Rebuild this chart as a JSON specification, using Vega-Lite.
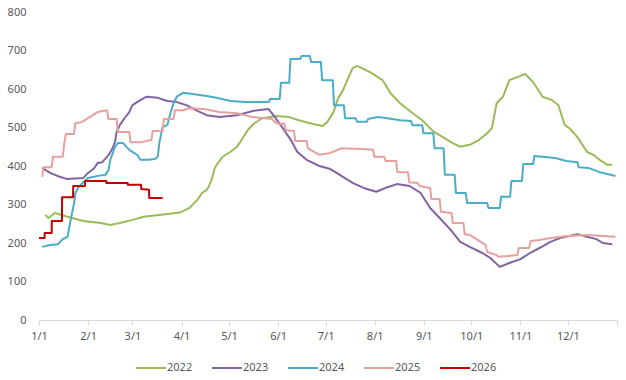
{
  "$schema": "https://vega.github.io/schema/vega-lite/v6.json",
  "width": 578,
  "height": 308,
  "autosize": {"type": "none"},
  "padding": {"left": 39, "top": 12, "right": 9, "bottom": 60},
  "background": "white",
  "config": {
    "view": {"stroke": null},
    "font": "Noto Sans",
    "axis": {"labelFont": "Noto Sans", "labelFontSize": 11, "labelColor": "#595959", "grid": false},
    "legend": {"labelFont": "Noto Sans", "labelFontSize": 11, "labelColor": "#595959"}
  },
  "datasets": {
    "series": [
      {"year": "2022", "day": 4, "value": 273}, {"year": "2022", "day": 6, "value": 265}, {"year": "2022", "day": 10, "value": 278},
      {"year": "2022", "day": 18, "value": 268}, {"year": "2022", "day": 28, "value": 257}, {"year": "2022", "day": 39, "value": 252},
      {"year": "2022", "day": 45, "value": 247}, {"year": "2022", "day": 51, "value": 252}, {"year": "2022", "day": 59, "value": 260},
      {"year": "2022", "day": 66, "value": 268}, {"year": "2022", "day": 76, "value": 273}, {"year": "2022", "day": 89, "value": 279},
      {"year": "2022", "day": 95, "value": 291}, {"year": "2022", "day": 100, "value": 312}, {"year": "2022", "day": 103, "value": 330},
      {"year": "2022", "day": 106, "value": 338}, {"year": "2022", "day": 107, "value": 345}, {"year": "2022", "day": 109, "value": 364},
      {"year": "2022", "day": 111, "value": 395}, {"year": "2022", "day": 113, "value": 408}, {"year": "2022", "day": 116, "value": 424},
      {"year": "2022", "day": 121, "value": 437}, {"year": "2022", "day": 125, "value": 450}, {"year": "2022", "day": 128, "value": 468},
      {"year": "2022", "day": 132, "value": 494}, {"year": "2022", "day": 136, "value": 511}, {"year": "2022", "day": 141, "value": 524},
      {"year": "2022", "day": 150, "value": 530}, {"year": "2022", "day": 158, "value": 527}, {"year": "2022", "day": 164, "value": 519},
      {"year": "2022", "day": 173, "value": 509}, {"year": "2022", "day": 179, "value": 504}, {"year": "2022", "day": 182, "value": 514},
      {"year": "2022", "day": 186, "value": 540}, {"year": "2022", "day": 189, "value": 577}, {"year": "2022", "day": 192, "value": 597},
      {"year": "2022", "day": 198, "value": 654}, {"year": "2022", "day": 201, "value": 660}, {"year": "2022", "day": 209, "value": 644},
      {"year": "2022", "day": 217, "value": 623}, {"year": "2022", "day": 222, "value": 589}, {"year": "2022", "day": 228, "value": 563},
      {"year": "2022", "day": 236, "value": 537}, {"year": "2022", "day": 242, "value": 519}, {"year": "2022", "day": 249, "value": 490},
      {"year": "2022", "day": 255, "value": 475}, {"year": "2022", "day": 261, "value": 460}, {"year": "2022", "day": 266, "value": 450},
      {"year": "2022", "day": 272, "value": 455}, {"year": "2022", "day": 278, "value": 468}, {"year": "2022", "day": 283, "value": 485},
      {"year": "2022", "day": 286, "value": 498}, {"year": "2022", "day": 289, "value": 563}, {"year": "2022", "day": 293, "value": 580},
      {"year": "2022", "day": 297, "value": 623}, {"year": "2022", "day": 302, "value": 631}, {"year": "2022", "day": 307, "value": 639},
      {"year": "2022", "day": 312, "value": 618}, {"year": "2022", "day": 318, "value": 580}, {"year": "2022", "day": 324, "value": 571},
      {"year": "2022", "day": 328, "value": 558}, {"year": "2022", "day": 332, "value": 506}, {"year": "2022", "day": 335, "value": 498},
      {"year": "2022", "day": 340, "value": 475}, {"year": "2022", "day": 346, "value": 437}, {"year": "2022", "day": 350, "value": 429},
      {"year": "2022", "day": 354, "value": 416}, {"year": "2022", "day": 359, "value": 403}, {"year": "2022", "day": 362, "value": 403},

      {"year": "2023", "day": 2, "value": 395}, {"year": "2023", "day": 7, "value": 382}, {"year": "2023", "day": 13, "value": 372},
      {"year": "2023", "day": 18, "value": 366}, {"year": "2023", "day": 28, "value": 369}, {"year": "2023", "day": 31, "value": 382},
      {"year": "2023", "day": 35, "value": 395}, {"year": "2023", "day": 37, "value": 408}, {"year": "2023", "day": 40, "value": 410},
      {"year": "2023", "day": 44, "value": 429}, {"year": "2023", "day": 46, "value": 442}, {"year": "2023", "day": 48, "value": 462},
      {"year": "2023", "day": 49, "value": 488}, {"year": "2023", "day": 51, "value": 506}, {"year": "2023", "day": 54, "value": 524},
      {"year": "2023", "day": 57, "value": 540}, {"year": "2023", "day": 59, "value": 558}, {"year": "2023", "day": 64, "value": 571},
      {"year": "2023", "day": 68, "value": 580}, {"year": "2023", "day": 75, "value": 577}, {"year": "2023", "day": 81, "value": 569},
      {"year": "2023", "day": 87, "value": 566}, {"year": "2023", "day": 93, "value": 558}, {"year": "2023", "day": 99, "value": 545},
      {"year": "2023", "day": 106, "value": 532}, {"year": "2023", "day": 114, "value": 527}, {"year": "2023", "day": 125, "value": 532},
      {"year": "2023", "day": 135, "value": 543}, {"year": "2023", "day": 145, "value": 548}, {"year": "2023", "day": 149, "value": 527},
      {"year": "2023", "day": 154, "value": 498}, {"year": "2023", "day": 159, "value": 468}, {"year": "2023", "day": 163, "value": 437},
      {"year": "2023", "day": 169, "value": 416}, {"year": "2023", "day": 177, "value": 400}, {"year": "2023", "day": 184, "value": 392},
      {"year": "2023", "day": 190, "value": 377}, {"year": "2023", "day": 198, "value": 356}, {"year": "2023", "day": 205, "value": 343},
      {"year": "2023", "day": 213, "value": 333}, {"year": "2023", "day": 220, "value": 345}, {"year": "2023", "day": 226, "value": 353},
      {"year": "2023", "day": 234, "value": 348}, {"year": "2023", "day": 241, "value": 330}, {"year": "2023", "day": 247, "value": 291},
      {"year": "2023", "day": 253, "value": 265}, {"year": "2023", "day": 260, "value": 234}, {"year": "2023", "day": 266, "value": 203},
      {"year": "2023", "day": 272, "value": 190}, {"year": "2023", "day": 280, "value": 174}, {"year": "2023", "day": 285, "value": 161},
      {"year": "2023", "day": 291, "value": 138}, {"year": "2023", "day": 297, "value": 148}, {"year": "2023", "day": 304, "value": 158},
      {"year": "2023", "day": 310, "value": 174}, {"year": "2023", "day": 316, "value": 187}, {"year": "2023", "day": 323, "value": 203},
      {"year": "2023", "day": 329, "value": 213}, {"year": "2023", "day": 335, "value": 218}, {"year": "2023", "day": 340, "value": 223},
      {"year": "2023", "day": 346, "value": 216}, {"year": "2023", "day": 352, "value": 210}, {"year": "2023", "day": 356, "value": 200},
      {"year": "2023", "day": 362, "value": 197},

      {"year": "2024", "day": 2, "value": 190}, {"year": "2024", "day": 7, "value": 195}, {"year": "2024", "day": 12, "value": 197},
      {"year": "2024", "day": 15, "value": 210}, {"year": "2024", "day": 18, "value": 216}, {"year": "2024", "day": 20, "value": 260},
      {"year": "2024", "day": 22, "value": 300}, {"year": "2024", "day": 23, "value": 330}, {"year": "2024", "day": 25, "value": 345},
      {"year": "2024", "day": 28, "value": 358}, {"year": "2024", "day": 31, "value": 369}, {"year": "2024", "day": 38, "value": 375},
      {"year": "2024", "day": 42, "value": 377}, {"year": "2024", "day": 44, "value": 390}, {"year": "2024", "day": 45, "value": 416},
      {"year": "2024", "day": 48, "value": 450}, {"year": "2024", "day": 50, "value": 460}, {"year": "2024", "day": 53, "value": 460},
      {"year": "2024", "day": 57, "value": 442}, {"year": "2024", "day": 62, "value": 429}, {"year": "2024", "day": 64, "value": 416},
      {"year": "2024", "day": 69, "value": 416}, {"year": "2024", "day": 73, "value": 418}, {"year": "2024", "day": 75, "value": 424},
      {"year": "2024", "day": 76, "value": 460}, {"year": "2024", "day": 78, "value": 501}, {"year": "2024", "day": 81, "value": 506},
      {"year": "2024", "day": 83, "value": 537}, {"year": "2024", "day": 85, "value": 563}, {"year": "2024", "day": 87, "value": 580},
      {"year": "2024", "day": 91, "value": 590}, {"year": "2024", "day": 97, "value": 587}, {"year": "2024", "day": 106, "value": 582},
      {"year": "2024", "day": 112, "value": 577}, {"year": "2024", "day": 121, "value": 569}, {"year": "2024", "day": 130, "value": 566},
      {"year": "2024", "day": 145, "value": 566}, {"year": "2024", "day": 145.8, "value": 574}, {"year": "2024", "day": 152, "value": 574},
      {"year": "2024", "day": 152.8, "value": 616}, {"year": "2024", "day": 158, "value": 616}, {"year": "2024", "day": 158.8, "value": 678},
      {"year": "2024", "day": 165, "value": 678}, {"year": "2024", "day": 165.8, "value": 686}, {"year": "2024", "day": 171, "value": 686},
      {"year": "2024", "day": 171.8, "value": 670}, {"year": "2024", "day": 178, "value": 670}, {"year": "2024", "day": 178.8, "value": 623},
      {"year": "2024", "day": 185.5, "value": 623}, {"year": "2024", "day": 186.3, "value": 558}, {"year": "2024", "day": 192.5, "value": 558},
      {"year": "2024", "day": 193.3, "value": 524}, {"year": "2024", "day": 200, "value": 524}, {"year": "2024", "day": 200.8, "value": 515},
      {"year": "2024", "day": 207, "value": 515}, {"year": "2024", "day": 207.8, "value": 522}, {"year": "2024", "day": 214, "value": 527},
      {"year": "2024", "day": 220, "value": 524}, {"year": "2024", "day": 228, "value": 519}, {"year": "2024", "day": 235, "value": 517},
      {"year": "2024", "day": 235.8, "value": 506}, {"year": "2024", "day": 242, "value": 506}, {"year": "2024", "day": 242.8, "value": 485},
      {"year": "2024", "day": 249, "value": 485}, {"year": "2024", "day": 249.8, "value": 446}, {"year": "2024", "day": 255.5, "value": 446},
      {"year": "2024", "day": 256.3, "value": 377}, {"year": "2024", "day": 262.5, "value": 377}, {"year": "2024", "day": 263.3, "value": 330},
      {"year": "2024", "day": 269.5, "value": 330}, {"year": "2024", "day": 270.3, "value": 304}, {"year": "2024", "day": 283, "value": 304},
      {"year": "2024", "day": 283.8, "value": 291}, {"year": "2024", "day": 291, "value": 291}, {"year": "2024", "day": 291.8, "value": 320},
      {"year": "2024", "day": 297.5, "value": 320}, {"year": "2024", "day": 298.3, "value": 361}, {"year": "2024", "day": 305, "value": 361},
      {"year": "2024", "day": 305.8, "value": 405}, {"year": "2024", "day": 312, "value": 405}, {"year": "2024", "day": 312.8, "value": 426},
      {"year": "2024", "day": 318, "value": 424}, {"year": "2024", "day": 326, "value": 421}, {"year": "2024", "day": 333, "value": 413},
      {"year": "2024", "day": 340, "value": 410}, {"year": "2024", "day": 340.8, "value": 397}, {"year": "2024", "day": 347, "value": 395},
      {"year": "2024", "day": 354, "value": 384}, {"year": "2024", "day": 359, "value": 379}, {"year": "2024", "day": 364, "value": 374},

      {"year": "2025", "day": 2, "value": 372}, {"year": "2025", "day": 2.8, "value": 397}, {"year": "2025", "day": 8, "value": 397},
      {"year": "2025", "day": 8.8, "value": 424}, {"year": "2025", "day": 15, "value": 424}, {"year": "2025", "day": 16, "value": 460},
      {"year": "2025", "day": 17, "value": 483}, {"year": "2025", "day": 22, "value": 483}, {"year": "2025", "day": 23, "value": 511},
      {"year": "2025", "day": 27, "value": 514}, {"year": "2025", "day": 32, "value": 527}, {"year": "2025", "day": 37, "value": 540},
      {"year": "2025", "day": 43, "value": 545}, {"year": "2025", "day": 43.8, "value": 522}, {"year": "2025", "day": 49, "value": 522},
      {"year": "2025", "day": 49.8, "value": 488}, {"year": "2025", "day": 57, "value": 488}, {"year": "2025", "day": 57.8, "value": 462},
      {"year": "2025", "day": 65, "value": 462}, {"year": "2025", "day": 71, "value": 468}, {"year": "2025", "day": 71.8, "value": 491},
      {"year": "2025", "day": 78, "value": 491}, {"year": "2025", "day": 78.8, "value": 522}, {"year": "2025", "day": 85, "value": 522},
      {"year": "2025", "day": 85.8, "value": 545}, {"year": "2025", "day": 91, "value": 545}, {"year": "2025", "day": 95, "value": 550},
      {"year": "2025", "day": 104, "value": 548}, {"year": "2025", "day": 114, "value": 540}, {"year": "2025", "day": 125, "value": 537},
      {"year": "2025", "day": 135, "value": 527}, {"year": "2025", "day": 147, "value": 522}, {"year": "2025", "day": 150, "value": 511},
      {"year": "2025", "day": 155, "value": 509}, {"year": "2025", "day": 155.8, "value": 493}, {"year": "2025", "day": 161, "value": 491},
      {"year": "2025", "day": 161.8, "value": 465}, {"year": "2025", "day": 169, "value": 465}, {"year": "2025", "day": 169.8, "value": 446},
      {"year": "2025", "day": 177, "value": 429}, {"year": "2025", "day": 184, "value": 434}, {"year": "2025", "day": 191, "value": 446},
      {"year": "2025", "day": 204, "value": 444}, {"year": "2025", "day": 211, "value": 442}, {"year": "2025", "day": 211.8, "value": 424},
      {"year": "2025", "day": 218, "value": 424}, {"year": "2025", "day": 218.8, "value": 413}, {"year": "2025", "day": 225.5, "value": 413},
      {"year": "2025", "day": 226.3, "value": 384}, {"year": "2025", "day": 233, "value": 384}, {"year": "2025", "day": 233.8, "value": 358},
      {"year": "2025", "day": 239, "value": 356}, {"year": "2025", "day": 240.5, "value": 348}, {"year": "2025", "day": 247, "value": 343},
      {"year": "2025", "day": 247.8, "value": 314}, {"year": "2025", "day": 253, "value": 314}, {"year": "2025", "day": 253.8, "value": 281},
      {"year": "2025", "day": 260.5, "value": 278}, {"year": "2025", "day": 261.3, "value": 252}, {"year": "2025", "day": 268, "value": 252},
      {"year": "2025", "day": 268.8, "value": 223}, {"year": "2025", "day": 272, "value": 221}, {"year": "2025", "day": 277, "value": 208},
      {"year": "2025", "day": 282, "value": 195}, {"year": "2025", "day": 283, "value": 177}, {"year": "2025", "day": 285, "value": 174},
      {"year": "2025", "day": 289, "value": 169}, {"year": "2025", "day": 290, "value": 164}, {"year": "2025", "day": 296, "value": 166},
      {"year": "2025", "day": 302, "value": 169}, {"year": "2025", "day": 303, "value": 187}, {"year": "2025", "day": 309.5, "value": 187},
      {"year": "2025", "day": 310.5, "value": 205}, {"year": "2025", "day": 316, "value": 208}, {"year": "2025", "day": 323, "value": 213},
      {"year": "2025", "day": 329, "value": 216}, {"year": "2025", "day": 335, "value": 218}, {"year": "2025", "day": 346, "value": 221},
      {"year": "2025", "day": 356, "value": 218}, {"year": "2025", "day": 364, "value": 216},

      {"year": "2026", "day": 0, "value": 213}, {"year": "2026", "day": 3.5, "value": 213}, {"year": "2026", "day": 3.6, "value": 226},
      {"year": "2026", "day": 8, "value": 226}, {"year": "2026", "day": 8.1, "value": 257}, {"year": "2026", "day": 14.5, "value": 257},
      {"year": "2026", "day": 14.6, "value": 319}, {"year": "2026", "day": 21.5, "value": 319}, {"year": "2026", "day": 21.6, "value": 348},
      {"year": "2026", "day": 29, "value": 348}, {"year": "2026", "day": 29.1, "value": 361}, {"year": "2026", "day": 42.5, "value": 361},
      {"year": "2026", "day": 42.6, "value": 356}, {"year": "2026", "day": 56, "value": 356}, {"year": "2026", "day": 56.1, "value": 351},
      {"year": "2026", "day": 64.5, "value": 351}, {"year": "2026", "day": 64.6, "value": 340}, {"year": "2026", "day": 69.5, "value": 338},
      {"year": "2026", "day": 69.6, "value": 317}, {"year": "2026", "day": 78, "value": 317}
    ]
  },
  "data": {"name": "series"},
  "mark": {"type": "line", "strokeJoin": "round", "strokeCap": "butt"},
  "encoding": {
    "x": {
      "field": "day", "type": "quantitative",
      "scale": {"domain": [0, 365], "nice": false, "zero": false},
      "axis": {
        "title": null,
        "values": [0, 31, 59, 90, 120, 151, 181, 212, 243, 273, 304, 334, 365],
        "labelExpr": "datum.value >= 365 ? '' : timeFormat(datetime(2001, 0, 1 + datum.value), '%-m/%-d')",
        "domainColor": "#d9d9d9", "tickColor": "#d9d9d9", "tickSize": 5, "labelPadding": 5,
        "labelFlush": false, "labelOverlap": false
      }
    },
    "y": {
      "field": "value", "type": "quantitative",
      "scale": {"domain": [0, 800], "nice": false},
      "axis": {"title": null, "values": [0, 100, 200, 300, 400, 500, 600, 700, 800], "domain": false, "ticks": false, "labelPadding": 13}
    },
    "color": {
      "field": "year", "type": "nominal",
      "scale": {"domain": ["2022", "2023", "2024", "2025", "2026"], "range": ["#9BBB59", "#8064A2", "#4BACC6", "#E6A09E", "#C00000"]},
      "legend": {
        "title": null, "orient": "none", "direction": "horizontal", "legendX": 96, "legendY": 340,
        "symbolType": "stroke", "symbolSize": 900, "columnPadding": 15, "labelOffset": 0
      }
    },
    "strokeWidth": {
      "field": "year", "type": "nominal",
      "scale": {"domain": ["2022", "2023", "2024", "2025", "2026"], "range": [2, 2, 2, 2, 4]},
      "legend": {
        "title": null, "orient": "none", "direction": "horizontal", "legendX": 96, "legendY": 340,
        "symbolType": "stroke", "symbolSize": 900, "columnPadding": 15, "labelOffset": 0
      }
    }
  }
}
